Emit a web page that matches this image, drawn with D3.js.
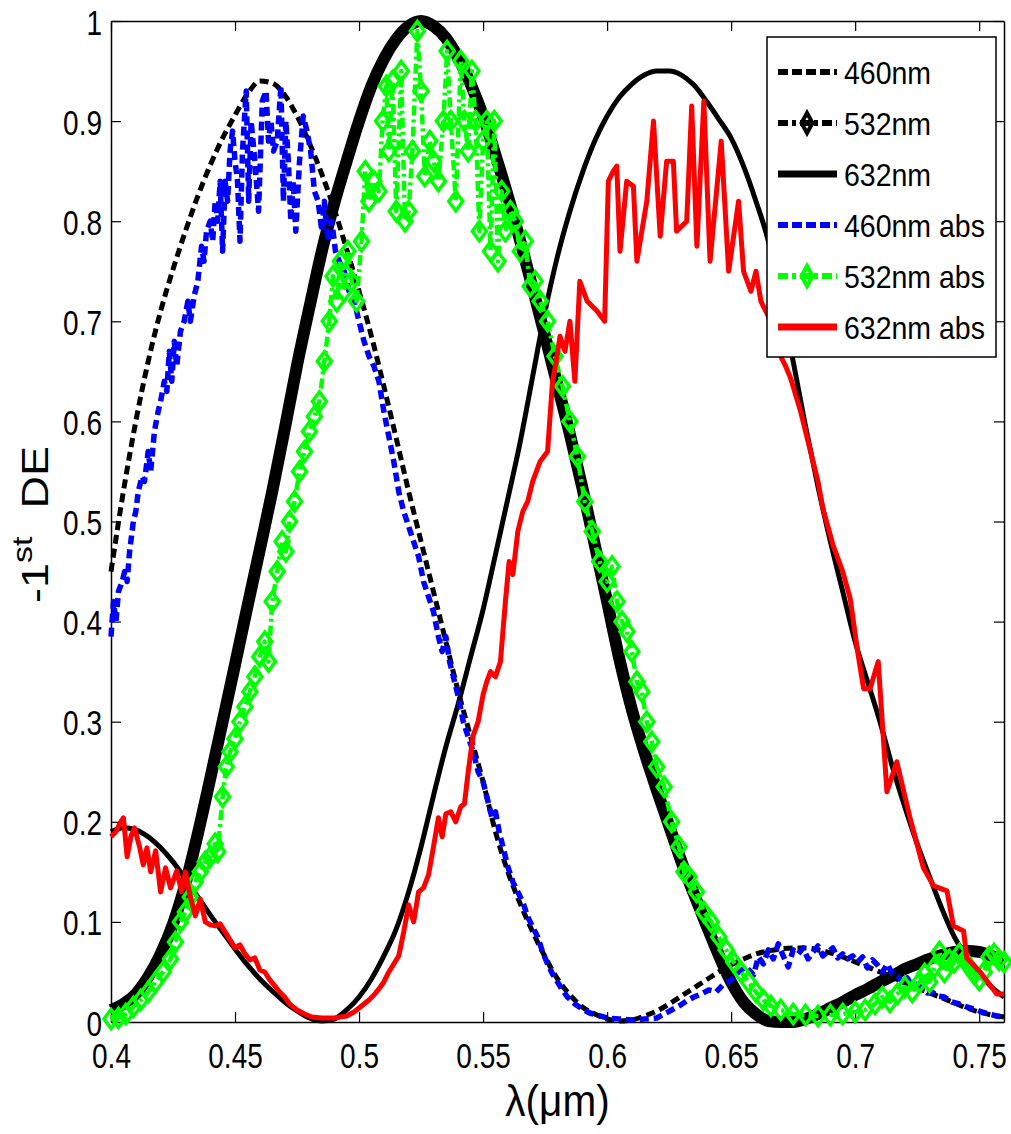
<!DOCTYPE html>
<html>
<head>
<meta charset="utf-8">
<script src="https://cdn.jsdelivr.net/npm/d3@7"></script>
<style>
  body { margin: 0; background: #fff; }
  svg { display: block; }
  text { font-family: 'Liberation Sans', Arial, Helvetica, sans-serif; fill: #000; }
</style>
</head>
<body>
<div id="chart"></div>
<script>
// wavelength grid of the theory curves (um)
const lambdaTheory = [0.400,0.405,0.410,0.415,0.420,0.425,0.430,0.435,0.440,0.445,0.450,0.455,0.460,0.465,0.470,0.475,0.480,0.485,0.490,0.495,
  0.500,0.505,0.510,0.515,0.520,0.525,0.530,0.535,0.540,0.545,0.550,0.555,0.560,0.565,0.570,0.575,0.580,0.585,0.590,0.595,
  0.600,0.605,0.610,0.615,0.620,0.625,0.630,0.635,0.640,0.645,0.650,0.655,0.660,0.665,0.670,0.675,0.680,0.685,0.690,0.695,
  0.700,0.705,0.710,0.715,0.720,0.725,0.730,0.735,0.740,0.745,0.750,0.755,0.760];

const de460 = [0.45,0.53,0.60,0.66,0.71,0.752,0.79,0.825,0.856,0.883,0.906,0.927,0.94,0.938,0.926,0.905,0.878,0.847,0.812,0.772,
  0.73,0.685,0.635,0.583,0.53,0.48,0.43,0.38,0.33,0.285,0.24,0.19,0.15,0.118,0.09,0.065,0.043,0.027,0.015,0.008,
  0.003,0.001,0.002,0.006,0.011,0.018,0.026,0.034,0.042,0.05,0.057,0.063,0.068,0.071,0.073,0.074,0.074,0.072,0.069,0.065,
  0.06,0.055,0.05,0.045,0.039,0.034,0.029,0.024,0.019,0.014,0.01,0.007,0.005];

const de532 = [0.012,0.018,0.028,0.045,0.068,0.098,0.138,0.188,0.243,0.30,0.357,0.415,0.472,0.53,0.592,0.656,0.714,0.77,0.818,0.86,
  0.9,0.935,0.962,0.982,0.995,1.0,0.995,0.983,0.963,0.937,0.905,0.866,0.825,0.78,0.733,0.685,0.636,0.587,0.534,0.477,
  0.42,0.362,0.312,0.27,0.232,0.196,0.16,0.128,0.097,0.067,0.04,0.02,0.008,0.001,0.0,0.0,0.003,0.008,0.014,0.02,
  0.027,0.033,0.04,0.046,0.053,0.058,0.063,0.067,0.07,0.071,0.07,0.066,0.061];

const de632 = [0.19,0.194,0.192,0.185,0.174,0.16,0.143,0.125,0.107,0.09,0.073,0.057,0.043,0.031,0.02,0.011,0.004,0.001,0.003,0.012,
  0.025,0.043,0.066,0.093,0.13,0.175,0.226,0.275,0.318,0.365,0.412,0.467,0.523,0.58,0.645,0.71,0.765,0.81,0.848,0.88,
  0.905,0.924,0.937,0.946,0.95,0.95,0.946,0.936,0.92,0.902,0.883,0.855,0.82,0.78,0.72,0.66,0.595,0.535,0.48,0.43,
  0.38,0.34,0.30,0.255,0.215,0.178,0.145,0.113,0.085,0.065,0.048,0.035,0.025];

// measured curves: [lambda, DE]
const abs460 = [[0.4000,0.385],[0.4010,0.42],[0.4020,0.40],[0.4030,0.43],[0.4045,0.44],[0.4055,0.45],[0.4065,0.44],[0.4075,0.47],
  [0.4090,0.50],[0.4100,0.51],[0.4110,0.53],[0.4125,0.545],[0.4135,0.54],[0.4150,0.57],[0.4160,0.55],[0.4175,0.59],[0.4190,0.61],
  [0.4200,0.62],[0.4215,0.64],[0.4225,0.63],[0.4235,0.67],[0.4245,0.64],[0.4255,0.68],[0.4265,0.655],[0.4280,0.69],[0.4295,0.70],
  [0.4310,0.72],[0.4320,0.70],[0.4335,0.725],[0.4350,0.74],[0.4365,0.775],[0.4375,0.76],[0.4385,0.79],[0.4400,0.80],[0.4410,0.78],
  [0.4420,0.82],[0.4430,0.80],[0.4440,0.84],[0.4450,0.77],[0.4460,0.84],[0.4470,0.82],[0.4480,0.87],[0.4490,0.89],[0.4500,0.86],
  [0.4510,0.84],[0.4520,0.78],[0.4530,0.87],[0.4545,0.93],[0.4555,0.82],[0.4565,0.90],[0.4580,0.86],[0.4595,0.81],[0.4610,0.92],
  [0.4625,0.93],[0.4635,0.88],[0.4645,0.90],[0.4655,0.87],[0.4670,0.88],[0.4685,0.935],[0.4695,0.82],[0.4705,0.90],[0.4715,0.86],
  [0.4725,0.80],[0.4735,0.84],[0.4745,0.79],[0.4760,0.86],[0.4775,0.905],[0.4790,0.89],[0.4805,0.87],[0.4820,0.83],[0.4835,0.82],
  [0.4850,0.79],[0.4860,0.82],[0.4875,0.78],[0.4890,0.80],[0.4905,0.77],[0.4920,0.76],[0.4940,0.75],[0.4960,0.73],[0.4980,0.72],
  [0.5000,0.70],[0.5020,0.68],[0.5040,0.665],[0.5060,0.655],[0.5080,0.64],[0.5100,0.61],[0.5120,0.585],[0.5140,0.56],[0.5160,0.53],
  [0.5180,0.51],[0.5200,0.495],[0.5220,0.48],[0.5240,0.465],[0.5260,0.44],[0.5280,0.425],[0.5300,0.41],[0.5320,0.385],[0.5335,0.37],
  [0.5350,0.385],[0.5365,0.36],[0.5380,0.345],[0.5400,0.325],[0.5420,0.30],[0.5440,0.285],[0.5460,0.27],[0.5480,0.25],[0.5500,0.24],
  [0.5520,0.22],[0.5535,0.205],[0.5550,0.21],[0.5565,0.19],[0.5580,0.175],[0.5600,0.155],[0.5620,0.14],[0.5640,0.13],[0.5660,0.12],
  [0.5680,0.105],[0.5700,0.095],[0.5720,0.085],[0.5740,0.07],[0.5760,0.058],[0.5780,0.048],[0.5800,0.04],[0.5820,0.032],[0.5840,0.025],
  [0.5870,0.018],[0.5900,0.013],[0.5930,0.009],[0.5960,0.007],[0.6000,0.004],[0.6050,0.003],[0.6100,0.002],[0.6150,0.003],[0.6200,0.004],
  [0.6230,0.008],[0.6260,0.012],[0.6290,0.016],[0.6320,0.021],[0.6350,0.025],[0.6380,0.028],[0.6410,0.032],[0.6440,0.03],[0.6470,0.038],
  [0.6500,0.042],[0.6530,0.05],[0.6560,0.055],[0.6590,0.047],[0.6610,0.065],[0.6630,0.058],[0.6650,0.072],[0.6670,0.063],[0.6690,0.078],
  [0.6710,0.066],[0.6730,0.055],[0.6750,0.072],[0.6770,0.068],[0.6790,0.074],[0.6810,0.063],[0.6830,0.07],[0.6850,0.076],[0.6870,0.066],
  [0.6890,0.07],[0.6910,0.074],[0.6930,0.064],[0.6950,0.068],[0.6970,0.063],[0.6990,0.066],[0.7010,0.06],[0.7030,0.065],[0.7050,0.054],
  [0.7070,0.062],[0.7090,0.057],[0.7110,0.05],[0.7130,0.058],[0.7150,0.048],[0.7170,0.046],[0.7190,0.04],[0.7210,0.044],[0.7230,0.036],
  [0.7250,0.038],[0.7270,0.033],[0.7290,0.029],[0.7310,0.03],[0.7330,0.026],[0.7360,0.025],[0.7390,0.02],[0.7420,0.018],[0.7450,0.015],
  [0.7480,0.013],[0.7510,0.01],[0.7540,0.008],[0.7570,0.006],[0.7600,0.005]];

const abs532 = [[0.4000,0.003],[0.4030,0.004],[0.4060,0.008],[0.4090,0.015],[0.4120,0.022],[0.4150,0.03],[0.4180,0.04],[0.4210,0.05],
  [0.4240,0.063],[0.4260,0.08],[0.4280,0.1],[0.4300,0.11],[0.4320,0.125],[0.4340,0.14],[0.4360,0.15],[0.4380,0.16],[0.4400,0.165],
  [0.4420,0.178],[0.4430,0.17],[0.4450,0.225],[0.4465,0.255],[0.4480,0.27],[0.4500,0.283],[0.4520,0.3],[0.4540,0.315],[0.4560,0.33],
  [0.4580,0.345],[0.4600,0.365],[0.4620,0.38],[0.4635,0.36],[0.4650,0.42],[0.4670,0.45],[0.4690,0.48],[0.4705,0.47],[0.4720,0.5],
  [0.4740,0.52],[0.4760,0.55],[0.4780,0.57],[0.4800,0.59],[0.4820,0.605],[0.4840,0.62],[0.4860,0.66],[0.4880,0.70],[0.4895,0.745],
  [0.4910,0.72],[0.4925,0.76],[0.4940,0.73],[0.4955,0.77],[0.4970,0.74],[0.4990,0.72],[0.5010,0.78],[0.5025,0.85],[0.5040,0.82],
  [0.5060,0.84],[0.5080,0.83],[0.5095,0.90],[0.5110,0.935],[0.5120,0.87],[0.5135,0.94],[0.5150,0.81],[0.5170,0.95],[0.5185,0.80],
  [0.5200,0.81],[0.5215,0.87],[0.5235,0.99],[0.5250,0.93],[0.5265,0.845],[0.5285,0.88],[0.5300,0.86],[0.5320,0.84],[0.5340,0.9],
  [0.5355,0.97],[0.5370,0.9],[0.5390,0.82],[0.5410,0.96],[0.5425,0.9],[0.5440,0.87],[0.5455,0.95],[0.5470,0.9],[0.5485,0.79],
  [0.5500,0.88],[0.5515,0.9],[0.5530,0.77],[0.5545,0.9],[0.5560,0.76],[0.5575,0.83],[0.5590,0.79],[0.5610,0.81],[0.5630,0.80],
  [0.5650,0.77],[0.5670,0.78],[0.5690,0.735],[0.5710,0.74],[0.5730,0.72],[0.5760,0.70],[0.5790,0.665],[0.5820,0.635],[0.5850,0.60],
  [0.5880,0.565],[0.5910,0.52],[0.5940,0.49],[0.5970,0.46],[0.6000,0.44],[0.6020,0.455],[0.6040,0.42],[0.6060,0.40],[0.6080,0.39],
  [0.6100,0.37],[0.6120,0.34],[0.6140,0.33],[0.6160,0.3],[0.6180,0.28],[0.6200,0.255],[0.6230,0.235],[0.6260,0.2],[0.6290,0.175],
  [0.6310,0.15],[0.6330,0.145],[0.6360,0.13],[0.6390,0.11],[0.6420,0.1],[0.6450,0.085],[0.6480,0.072],[0.6510,0.06],[0.6540,0.05],
  [0.6570,0.04],[0.6600,0.03],[0.6630,0.022],[0.6660,0.016],[0.6700,0.012],[0.6750,0.008],[0.6800,0.007],[0.6850,0.006],[0.6900,0.007],
  [0.6950,0.008],[0.7000,0.01],[0.7040,0.012],[0.7080,0.018],[0.7110,0.025],[0.7140,0.02],[0.7170,0.028],[0.7200,0.035],[0.7230,0.03],
  [0.7260,0.04],[0.7280,0.048],[0.7300,0.04],[0.7320,0.055],[0.7340,0.07],[0.7360,0.05],[0.7380,0.062],[0.7400,0.06],[0.7420,0.068],
  [0.7440,0.062],[0.7460,0.055],[0.7480,0.048],[0.7500,0.042],[0.7520,0.05],[0.7540,0.065],[0.7560,0.068],[0.7580,0.062],[0.7600,0.06]];

const abs632 = [[0.4000,0.185],[0.4020,0.19],[0.4035,0.198],[0.4050,0.204],[0.4065,0.165],[0.4080,0.185],[0.4095,0.194],[0.4115,0.175],
  [0.4130,0.157],[0.4145,0.174],[0.4160,0.15],[0.4180,0.171],[0.4200,0.13],[0.4220,0.154],[0.4240,0.134],[0.4265,0.151],[0.4285,0.13],
  [0.4300,0.15],[0.4320,0.125],[0.4340,0.106],[0.4360,0.123],[0.4380,0.1],[0.4400,0.097],[0.4420,0.096],[0.4440,0.098],[0.4460,0.09],
  [0.4480,0.082],[0.4500,0.074],[0.4520,0.077],[0.4540,0.068],[0.4560,0.062],[0.4580,0.064],[0.4600,0.052],[0.4620,0.05],[0.4640,0.042],
  [0.4660,0.036],[0.4680,0.03],[0.4700,0.025],[0.4720,0.018],[0.4750,0.012],[0.4780,0.008],[0.4810,0.005],[0.4850,0.004],[0.4900,0.004],
  [0.4950,0.006],[0.4980,0.01],[0.5010,0.016],[0.5040,0.022],[0.5060,0.027],[0.5080,0.033],[0.5100,0.04],[0.5120,0.05],[0.5140,0.058],
  [0.5160,0.066],[0.5180,0.09],[0.5200,0.117],[0.5220,0.1],[0.5240,0.13],[0.5260,0.134],[0.5280,0.147],[0.5300,0.175],[0.5320,0.204],
  [0.5335,0.185],[0.5350,0.208],[0.5370,0.21],[0.5390,0.2],[0.5410,0.215],[0.5425,0.218],[0.5440,0.25],[0.5460,0.286],[0.5480,0.3],
  [0.5500,0.327],[0.5515,0.34],[0.5530,0.35],[0.5550,0.345],[0.5570,0.36],[0.5590,0.42],[0.5605,0.46],[0.5620,0.447],[0.5640,0.49],
  [0.5660,0.51],[0.5680,0.52],[0.5700,0.54],[0.5730,0.56],[0.5760,0.57],[0.5780,0.64],[0.5795,0.66],[0.5810,0.685],[0.5830,0.67],
  [0.5850,0.70],[0.5870,0.64],[0.5890,0.74],[0.5920,0.72],[0.5940,0.715],[0.5960,0.71],[0.5990,0.70],[0.6005,0.84],[0.6025,0.85],
  [0.6039,0.855],[0.6052,0.77],[0.6079,0.84],[0.6106,0.835],[0.6120,0.76],[0.6160,0.82],[0.6187,0.90],[0.6214,0.785],[0.6240,0.86],
  [0.6267,0.86],[0.6280,0.79],[0.6321,0.80],[0.6341,0.915],[0.6362,0.775],[0.6390,0.92],[0.6415,0.76],[0.6460,0.88],[0.6490,0.75],
  [0.6530,0.82],[0.6550,0.75],[0.6580,0.73],[0.6600,0.75],[0.6620,0.72],[0.6650,0.705],[0.6690,0.67],[0.6720,0.655],[0.6740,0.643],
  [0.6780,0.61],[0.6810,0.58],[0.6850,0.54],[0.6870,0.513],[0.6910,0.477],[0.6950,0.45],[0.6980,0.423],[0.7010,0.37],[0.7034,0.333],
  [0.7060,0.333],[0.7093,0.36],[0.7128,0.23],[0.7168,0.26],[0.7220,0.205],[0.7275,0.154],[0.7316,0.136],[0.7370,0.131],[0.7396,0.096],
  [0.7437,0.091],[0.7450,0.064],[0.7504,0.05],[0.7571,0.028],[0.7600,0.028]];

const xTicks = [0.4, 0.45, 0.5, 0.55, 0.6, 0.65, 0.7, 0.75];
const yTicks = [0, 0.1, 0.2, 0.3, 0.4, 0.5, 0.6, 0.7, 0.8, 0.9, 1];
const legendLabels = ['460nm', '532nm', '632nm', '460nm abs', '532nm abs', '632nm abs'];

// ----------------------------------
// SIZES
// ----------------------------------
const width = 1011, height = 1134;
const margin = {top: 21, right: 7, bottom: 112, left: 111};
const innerWidth = width - margin.left - margin.right,
      innerHeight = height - margin.top - margin.bottom;
const squeeze = 0.8; // the original figure text is narrow

// narrow a text horizontally without a transform
function narrow(sel, k) {
  sel.each(function() {
    const w = this.getComputedTextLength();
    if (w > 0) d3.select(this).attr('textLength', w * k).attr('lengthAdjust', 'spacingAndGlyphs');
  });
}

const svg = d3.select('#chart').append('svg')
  .attr('width', width)
  .attr('height', height)
  .style('background', '#fff');

const x = d3.scaleLinear().domain([0.4, 0.76]).range([0, innerWidth]);
const y = d3.scaleLinear().domain([0, 1]).range([innerHeight, 0]);

const g = svg.append('g').attr('transform', `translate(${margin.left},${margin.top})`);

// ----------------------------------
// AXES (box with inward ticks)
// ----------------------------------
const xAxis = g.append('g')
  .attr('transform', `translate(0,${innerHeight})`)
  .call(d3.axisBottom(x).tickValues(xTicks).tickFormat(d => String(d)).tickSizeInner(-10).tickSizeOuter(0));
xAxis.selectAll('text')
  .attr('y', 46).attr('dy', 0)
  .style('font-size', '35px')
  .call(narrow, squeeze);

const yAxis = g.append('g')
  .call(d3.axisLeft(y).tickValues(yTicks).tickFormat(d => String(d)).tickSizeInner(-10).tickSizeOuter(0));
yAxis.selectAll('text')
  .attr('x', -9).attr('y', 13).attr('dy', 0)
  .style('font-size', '35px')
  .call(narrow, squeeze);

const topAxis = g.append('g')
  .call(d3.axisTop(x).tickValues(xTicks).tickSizeInner(-10).tickSizeOuter(0));
const rightAxis = g.append('g')
  .attr('transform', `translate(${innerWidth},0)`)
  .call(d3.axisRight(y).tickValues(yTicks).tickSizeInner(-10).tickSizeOuter(0));
topAxis.selectAll('text').remove();
rightAxis.selectAll('text').remove();

g.selectAll('.domain').attr('stroke', '#000').attr('stroke-width', 1.5);
g.selectAll('.tick line').attr('stroke', '#000').attr('stroke-width', 1.2);

// ----------------------------------
// CURVES
// ----------------------------------
const theory = vals => lambdaTheory.map((l, i) => [l, vals[i]]);

const series = [
  {data: theory(de460), color: '#000', width: 5, dash: '9,5', curve: d3.curveMonotoneX},
  {data: theory(de532), color: '#000', width: 12, dash: null, curve: d3.curveMonotoneX},
  {data: theory(de632), color: '#000', width: 5, dash: null, curve: d3.curveMonotoneX},
  {data: abs460, color: '#0000ff', width: 5.5, dash: '9,5', curve: d3.curveLinear},
  {data: abs532, color: '#00ff00', width: 4.5, dash: '10,4,3,4', curve: d3.curveLinear, marker: true},
  {data: abs632, color: '#ff0000', width: 5, dash: null, curve: d3.curveLinear}
];

const diamond = 'M0,-9.5L7,0L0,9.5L-7,0Z';

series.forEach(s => {
  const line = d3.line()
    .x(d => x(d[0]))
    .y(d => y(d[1]))
    .curve(s.curve);

  g.append('path')
    .datum(s.data)
    .attr('d', line)
    .attr('fill', 'none')
    .attr('stroke', s.color)
    .attr('stroke-width', s.width)
    .attr('stroke-dasharray', s.dash)
    .attr('stroke-linejoin', 'round');

  if (s.marker) {
    g.append('g').selectAll('path')
      .data(s.data)
      .join('path')
      .attr('d', diamond)
      .attr('transform', d => `translate(${x(d[0])},${y(d[1])})`)
      .attr('fill', 'none')
      .attr('stroke', s.color)
      .attr('stroke-width', 3.5);
  }
});

// ----------------------------------
// LEGEND
// ----------------------------------
const legend = svg.append('g').attr('transform', 'translate(767,37)');
legend.append('rect')
  .attr('width', 229).attr('height', 320)
  .attr('fill', '#fff').attr('stroke', '#000').attr('stroke-width', 1.5);

const legendStyle = [
  {color: '#000', dash: '10,4', width: 6},
  {color: '#000', dash: '10,4,4,4', width: 6, marker: true},
  {color: '#000', dash: null, width: 7},
  {color: '#0000ff', dash: '10,4', width: 6},
  {color: '#00ff00', dash: '10,4,4,4', width: 6, marker: true},
  {color: '#ff0000', dash: null, width: 7}
];

legendLabels.forEach((label, i) => {
  const cy = 35 + i * 51;
  const st = legendStyle[i];
  legend.append('line')
    .attr('x1', 11).attr('x2', 70)
    .attr('y1', cy).attr('y2', cy)
    .attr('stroke', st.color)
    .attr('stroke-width', st.width)
    .attr('stroke-dasharray', st.dash);
  if (st.marker) {
    legend.append('path')
      .attr('d', 'M0,-10L5.5,0L0,10L-5.5,0Z')
      .attr('transform', `translate(40,${cy})`)
      .attr('fill', 'none')
      .attr('stroke', st.color)
      .attr('stroke-width', 4);
  }
  legend.append('text')
    .attr('x', 77)
    .attr('y', cy + 11.5)
    .style('font-size', '32px')
    .text(label)
    .call(narrow, 0.89);
});

// ----------------------------------
// AXIS LABELS
// ----------------------------------
svg.append('text')
  .attr('x', margin.left + innerWidth / 2)
  .attr('y', 1116)
  .attr('text-anchor', 'middle')
  .style('font-size', '45px')
  .text('λ(μm)')
  .call(narrow, 0.9);

const yLabel = svg.append('text')
  .attr('transform', `translate(48,603) scale(${squeeze},1) rotate(-90)`)
  .style('font-size', '45px');
yLabel.append('tspan').text('-1');
yLabel.append('tspan').attr('dy', -20).style('font-size', '34px').text('st');
yLabel.append('tspan').attr('dy', 20).attr('dx', 28).text('DE');
</script>
</body>
</html>
